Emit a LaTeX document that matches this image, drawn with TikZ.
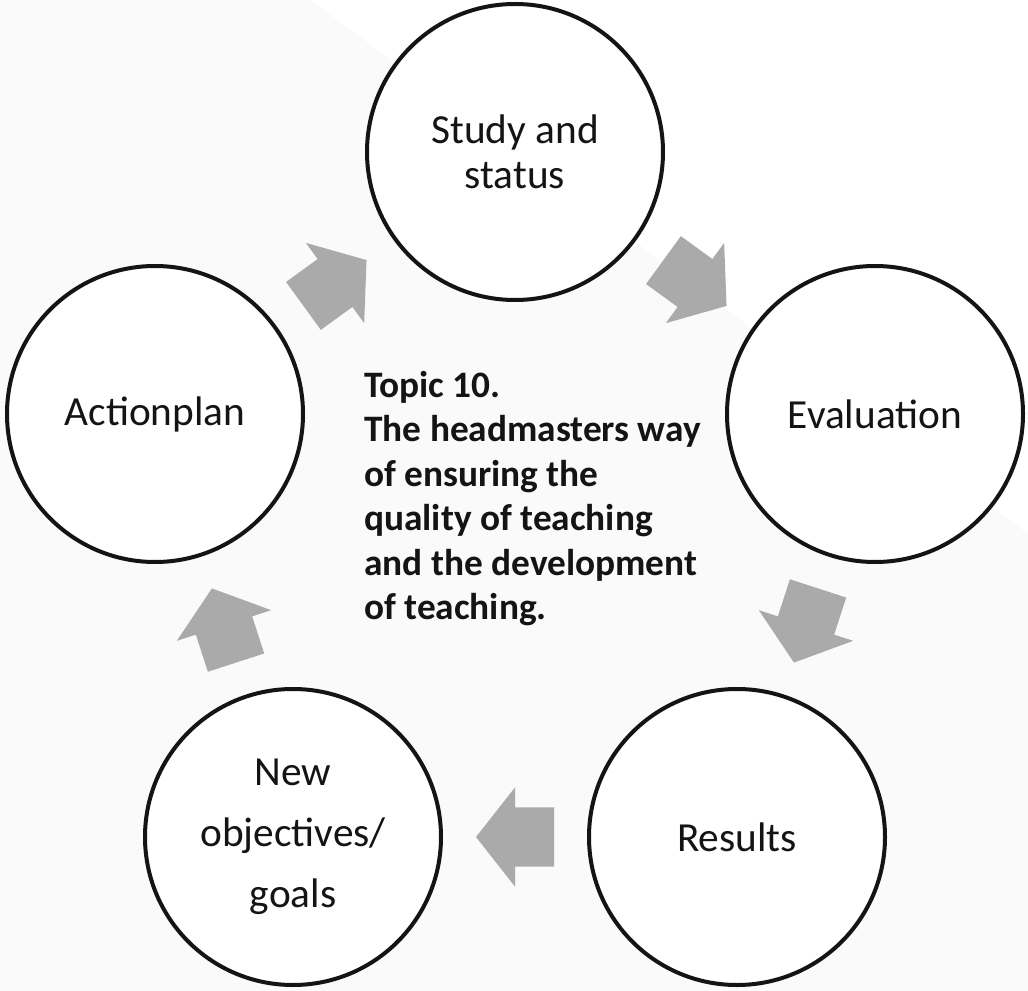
\documentclass[tikz,border=0pt]{standalone}
\usepackage{fontspec}
\setmainfont{Carlito}
\usetikzlibrary{calc}
\definecolor{arrowgray}{HTML}{AAAAAA}
\definecolor{bggray}{HTML}{FAFAFA}
\definecolor{inkblack}{HTML}{141414}
\tikzset{
  stage/.style={circle, draw=inkblack, line width=3pt, fill=white,
    minimum size=222pt, inner sep=0pt, align=center, text=inkblack,
    font=\fontsize{31}{33.75}\selectfont},
  cyclearrow/.pic={
    \fill[arrowgray] (-39,-29.6) -- (0,-29.6) -- (0,-49.6) -- (39,0)
      -- (0,49.6) -- (0,29.6) -- (-39,29.6) -- cycle;}
}
\begin{document}
\begin{tikzpicture}[x=0.75pt,y=-0.75pt]
    \useasboundingbox (0,0) rectangle (1028,991);
    \fill[white] (0,0) rectangle (1028,991);
    \fill[bggray] (0,0) -- (310,0) -- (1028,534) -- (1028,991) -- (0,991) -- cycle;
    \node[stage] (study) at (515,152) {Study and\\status};
    \node[stage] (eval) at (875,414) {Evaluation};
    \node[stage] (results) at (737,837) {Results};
    \node[stage, font=\fontsize{31}{45.75}\selectfont] (newobj) at (293,837) {New\\objectives/\\goals};
    \node[stage] (action) at (155,414) {Actionplan};
    \node[anchor=north west, align=left, inner sep=0pt, text=inkblack,
      font=\bfseries\fontsize{28}{33.3}\selectfont] (topic) at (364,371)
      {Topic 10.\\The headmasters way\\of ensuring the\\quality of teaching\\and the development\\of teaching.};
    \path ($(action)!0.5!(study)$) pic[rotate=36] {cyclearrow};
    \path ($(study)!0.5!(eval)$) pic[rotate=-36] {cyclearrow};
    \path ($(eval)!0.5!(results)$) pic[rotate=-108] {cyclearrow};
    \path ($(results)!0.5!(newobj)$) pic[rotate=180] {cyclearrow};
    \path ($(newobj)!0.5!(action)$) pic[rotate=108] {cyclearrow};
\end{tikzpicture}
\end{document}
